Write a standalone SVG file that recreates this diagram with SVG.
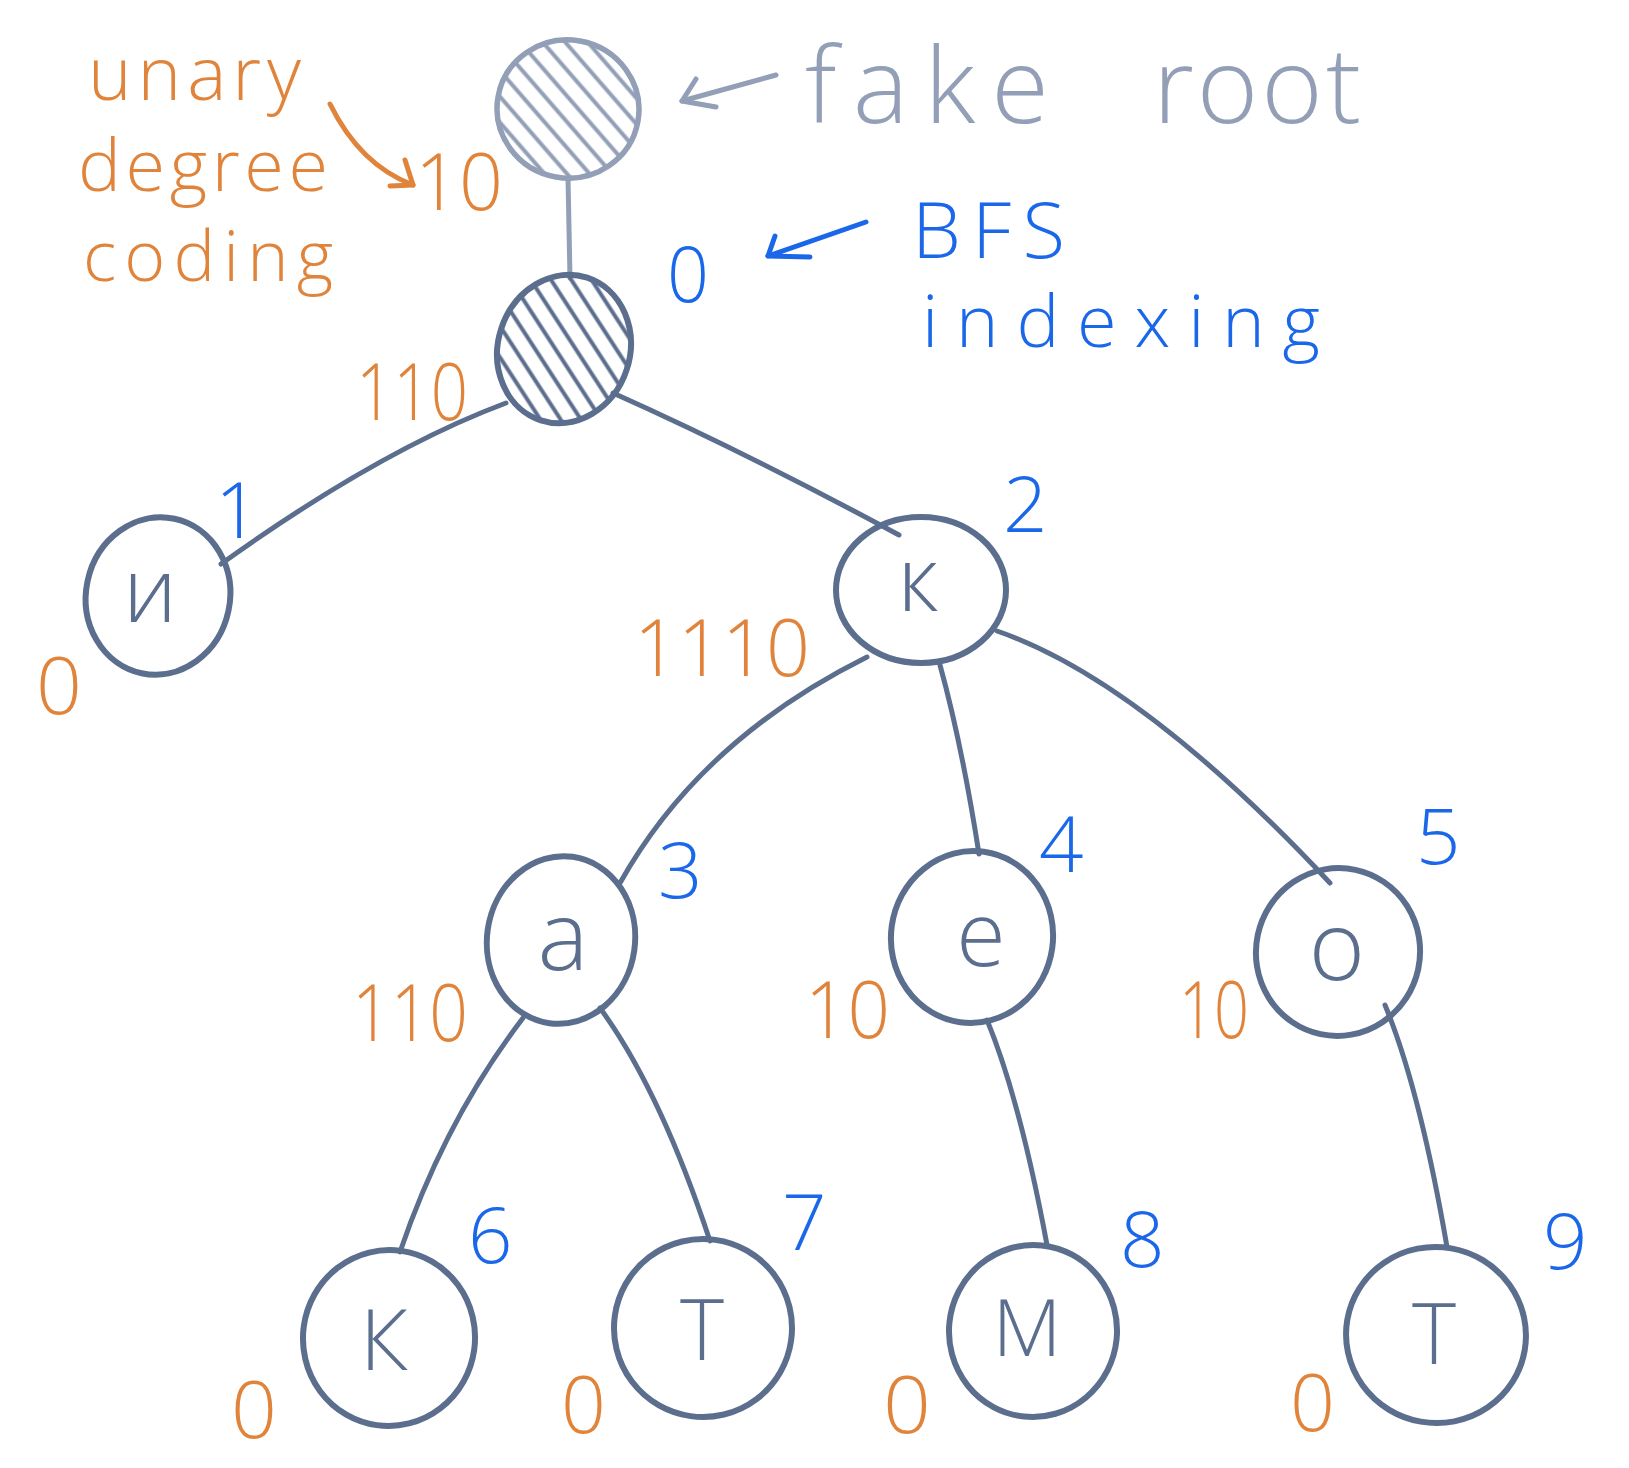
<svg xmlns="http://www.w3.org/2000/svg" width="1629" height="1468" viewBox="0 0 1629 1468">
<style>
.node{fill:none;stroke:#5b6e8e;stroke-width:6}
.node-hatch{fill:url(#hatchRoot);stroke:#5b6e8e;stroke-width:6}
.fake{fill:url(#hatchFake);stroke:#929fb6;stroke-width:5.5}
.edge{fill:none;stroke:#5b6e8e;stroke-width:5;stroke-linecap:round}
.edge-fake{fill:none;stroke:#929fb6;stroke-width:5;stroke-linecap:round}
.ltr{font-family:"Open Sans","Liberation Sans",sans-serif;font-weight:300;fill:#5b6e8e;text-anchor:middle}
.idx{font-family:"Open Sans","Liberation Sans",sans-serif;font-weight:300;fill:#1a67ea;font-size:78px}
.code{font-family:"Open Sans","Liberation Sans",sans-serif;font-weight:300;fill:#e0843b;font-size:80px}
.ann-o{font-family:"Open Sans","Liberation Sans",sans-serif;font-weight:300;fill:#e0843b}
.ann-b{font-family:"Open Sans","Liberation Sans",sans-serif;font-weight:300;fill:#1a67ea}
.ann-g{font-family:"Open Sans","Liberation Sans",sans-serif;font-weight:300;fill:#929fb6}
</style>
<defs>
<pattern id="hatchFake" width="17" height="17" patternUnits="userSpaceOnUse" patternTransform="rotate(-51)">
<line x1="8.5" y1="0" x2="8.5" y2="17" stroke="#929fb6" stroke-width="4"/>
</pattern>
<pattern id="hatchRoot" width="17" height="17" patternUnits="userSpaceOnUse" patternTransform="rotate(-51)">
<line x1="8.5" y1="0" x2="8.5" y2="17" stroke="#5b6e8e" stroke-width="4"/>
</pattern>
</defs>

<g id="connectors">
<path class="edge-fake" d="M568,178 L570,278"/>
<path class="edge" d="M506,403 Q380,450 221,564"/>
<path class="edge" d="M613,393 Q745,452 899,535"/>
<path class="edge" d="M867,657 Q700,740 620,883"/>
<path class="edge" d="M940,665 Q962,745 979,854"/>
<path class="edge" d="M997,631 Q1140,680 1330,883"/>
<path class="edge" d="M523,1018 Q445,1120 400,1252"/>
<path class="edge" d="M600,1008 Q660,1090 710,1241"/>
<path class="edge" d="M987,1020 Q1020,1100 1047,1245"/>
<path class="edge" d="M1385,1005 Q1420,1090 1447,1247"/>
</g>

<g id="fake-root">
<ellipse cx="568" cy="109" rx="71" ry="69" transform="rotate(10 568 109)" class="fake"/>
<text x="415" y="210" class="code" font-size="88" textLength="88" lengthAdjust="spacingAndGlyphs">10</text>
</g>

<g id="node-0">
<ellipse cx="564" cy="349" rx="66" ry="75" transform="rotate(18 564 349)" class="node-hatch"/>
<text x="667" y="302" class="idx" textLength="42" lengthAdjust="spacingAndGlyphs">0</text>
<text x="356" y="420" class="code" textLength="112" lengthAdjust="spacingAndGlyphs">110</text>
</g>

<g id="node-1">
<ellipse cx="158" cy="596" rx="72" ry="79" transform="rotate(12 158 596)" class="node"/>
<text x="150" y="622" class="ltr" font-size="90">и</text>
<text x="215" y="538" class="idx">1</text>
<text x="36" y="714" class="code" textLength="46" lengthAdjust="spacingAndGlyphs">0</text>
</g>

<g id="node-2">
<ellipse cx="921" cy="590" rx="85" ry="73" class="node"/>
<text x="918" y="611" class="ltr" font-size="90">к</text>
<text x="1003" y="532" class="idx">2</text>
<text x="634" y="676" class="code" textLength="176" lengthAdjust="spacingAndGlyphs">1110</text>
</g>

<g id="node-3">
<ellipse cx="561" cy="940" rx="74" ry="84" transform="rotate(8 561 940)" class="node"/>
<text x="563" y="970" class="ltr" font-size="96">а</text>
<text x="658" y="898" class="idx">3</text>
<text x="352" y="1041" class="code" textLength="116" lengthAdjust="spacingAndGlyphs">110</text>
</g>

<g id="node-4">
<ellipse cx="972" cy="937" rx="81" ry="86" transform="rotate(8 972 937)" class="node"/>
<text x="981" y="966" class="ltr" font-size="90">е</text>
<text x="1039" y="872" class="idx">4</text>
<text x="805" y="1038" class="code" textLength="85" lengthAdjust="spacingAndGlyphs">10</text>
</g>

<g id="node-5">
<ellipse cx="1338" cy="952" rx="82" ry="84" transform="rotate(12 1338 952)" class="node"/>
<text x="1337" y="980" class="ltr" font-size="96">о</text>
<text x="1416" y="864" class="idx">5</text>
<text x="1179" y="1038" class="code" textLength="70" lengthAdjust="spacingAndGlyphs">10</text>
</g>

<g id="node-6">
<ellipse cx="389" cy="1338" rx="86" ry="88" transform="rotate(8 389 1338)" class="node"/>
<text x="384" y="1370" class="ltr" font-size="84">К</text>
<text x="468" y="1263" class="idx">6</text>
<text x="231" y="1438" class="code" textLength="46" lengthAdjust="spacingAndGlyphs">0</text>
</g>

<g id="node-7">
<ellipse cx="703" cy="1328" rx="89" ry="89" transform="rotate(8 703 1328)" class="node"/>
<text x="702" y="1360" class="ltr" font-size="84">Т</text>
<text x="782" y="1250" class="idx">7</text>
<text x="561" y="1433" class="code" textLength="45" lengthAdjust="spacingAndGlyphs">0</text>
</g>

<g id="node-8">
<ellipse cx="1033" cy="1331" rx="84" ry="86" transform="rotate(6 1033 1331)" class="node"/>
<text x="1027" y="1356" class="ltr" font-size="80">М</text>
<text x="1120" y="1267" class="idx">8</text>
<text x="883" y="1433" class="code" textLength="48" lengthAdjust="spacingAndGlyphs">0</text>
</g>

<g id="node-9">
<ellipse cx="1436" cy="1335" rx="90" ry="88" transform="rotate(10 1436 1335)" class="node"/>
<text x="1434" y="1364" class="ltr" font-size="84">Т</text>
<text x="1543" y="1269" class="idx">9</text>
<text x="1290" y="1431" class="code" textLength="45" lengthAdjust="spacingAndGlyphs">0</text>
</g>

<g id="annotation-degree">
<text x="88" y="100" class="ann-o" font-size="74" textLength="213" lengthAdjust="spacing">unary</text>
<text x="78" y="191" class="ann-o" font-size="72" textLength="250" lengthAdjust="spacing">degree</text>
<text x="83" y="281" class="ann-o" font-size="70" textLength="250" lengthAdjust="spacing">coding</text>
<path d="M330,104 Q360,165 413,185" fill="none" stroke="#e0843b" stroke-width="5" stroke-linecap="round"/>
<path d="M390,186 L413,185 L405,160" fill="none" stroke="#e0843b" stroke-width="5" stroke-linecap="round" stroke-linejoin="round"/>
</g>

<g id="annotation-fake-root">
<text x="805" y="123" class="ann-g" font-size="105" textLength="244" lengthAdjust="spacing">fake</text>
<text x="1153" y="123" class="ann-g" font-size="105" textLength="208" lengthAdjust="spacing">root</text>
<path d="M776,75 L682,101" fill="none" stroke="#929fb6" stroke-width="5" stroke-linecap="round"/>
<path d="M696,79 L682,101 L716,107" fill="none" stroke="#929fb6" stroke-width="5" stroke-linecap="round" stroke-linejoin="round"/>
</g>

<g id="annotation-bfs">
<text x="912" y="258" class="ann-b" font-size="78" textLength="153" lengthAdjust="spacing">BFS</text>
<text x="922" y="347" class="ann-b" font-size="72" textLength="398" lengthAdjust="spacing">indexing</text>
<path d="M866,222 L768,256" fill="none" stroke="#1a67ea" stroke-width="5" stroke-linecap="round"/>
<path d="M775,236 L768,256 L810,257" fill="none" stroke="#1a67ea" stroke-width="5" stroke-linecap="round" stroke-linejoin="round"/>
</g>
</svg>
